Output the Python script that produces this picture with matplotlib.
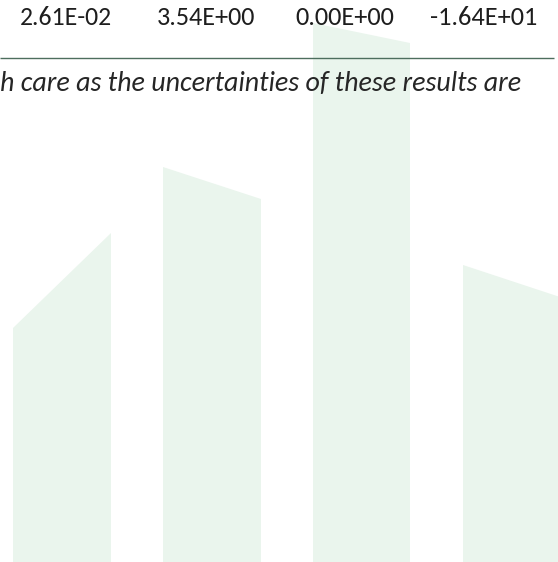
import matplotlib
matplotlib.use("Agg")
import matplotlib.pyplot as plt
from matplotlib.patches import Polygon
from matplotlib import font_manager

# --- data (pixel units of the page crop) ---
cell_values = ["2.61E-02", "3.54E+00", "0.00E+00", "-1.64E+01"]
cell_centers = [66, 206, 345, 484]
cell_widths = [93, 99, 100, 108]
note_text = "h care as the uncertainties of these results are"

# watermark bars: left edge, right edge, top at left, top at right
bar_left = [13, 163, 313, 463]
bar_right = [111, 261, 410, 560]
bar_top_left = [328, 167, 23, 265]
bar_top_right = [233, 199, 43, 297]

fonts = font_manager.fontManager.ttflist
def pick(prefs, style):
    for p in prefs:
        if any(f.name == p and f.style == style for f in fonts):
            return p
    return "Lato"

prefs = ["Carlito", "Selawik", "Fira Sans Condensed", "Archivo Narrow", "Lato"]
fam_reg = pick(prefs, "normal")
fam_it = pick(prefs, "italic")

W, H = 558, 562
fig = plt.figure(figsize=(W / 100, H / 100), dpi=100)
ax = fig.add_axes([0, 0, 1, 1])
ax.set_xlim(0, W)
ax.set_ylim(H, 0)
ax.axis("off")

green = "#eaf5ed"
for xl, xr, tl, tr in zip(bar_left, bar_right, bar_top_left, bar_top_right):
    ax.add_patch(Polygon([(xl, H + 5), (xl, tl), (xr, tr), (xr, H + 5)],
                         closed=True, facecolor=green, edgecolor="none", zorder=1))

# table rule
ax.plot([0, 554], [57.5, 57.5], color="#4d6e5e", lw=1.0, zorder=2, solid_capstyle="butt")

fig.canvas.draw()
renderer = fig.canvas.get_renderer()

def fit_text(x, y, s, width, ha, **kw):
    t = ax.text(x, y, s, ha=ha, va="baseline", fontsize=16, zorder=3, **kw)
    bb = t.get_window_extent(renderer)
    t.set_fontsize(16 * width / bb.width)
    return t

for v, cx, w in zip(cell_values, cell_centers, cell_widths):
    fit_text(cx, 25, v, w, "center", family=fam_reg, color="#1e1e1e")

fit_text(0, 90.5, note_text, 522, "left", family=fam_it, style="italic", color="#262626")

fig.savefig("out.png", dpi=100)
